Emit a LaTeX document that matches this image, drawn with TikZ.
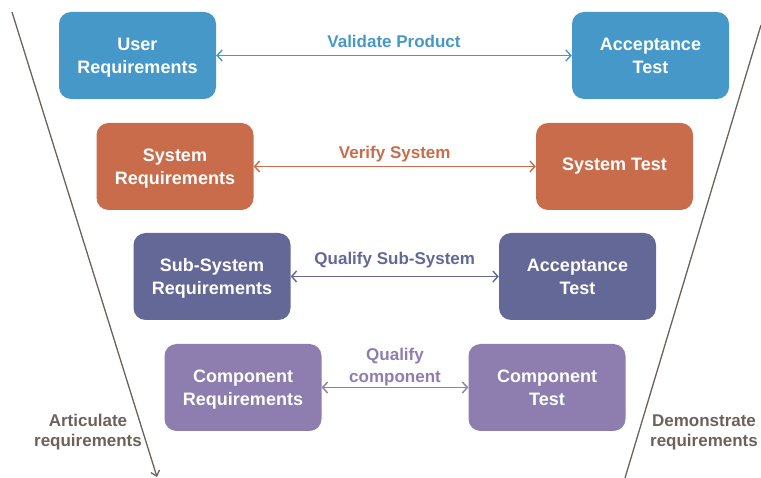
\documentclass[tikz,border=0pt]{standalone}
\usepackage{fontspec}
\setmainfont{Liberation Sans}
\usepackage{tikz}
\usetikzlibrary{arrows.meta, positioning}

\definecolor{vblue}{RGB}{70,152,201}
\definecolor{vorange}{RGB}{200,108,75}
\definecolor{vslate}{RGB}{100,104,150}
\definecolor{vpurple}{RGB}{142,125,175}
\definecolor{vbrown}{RGB}{108,98,90}

% keep the descender of the last line out of the centring
\newcommand{\nodepth}[1]{\raisebox{0pt}[\height][0pt]{#1}}

\begin{document}
\begin{tikzpicture}[
    x=1pt, y=-1pt,
    box/.style={rounded corners=12pt, minimum width=157pt, minimum height=87pt,
        align=center, text=white, font=\fontsize{18}{23}\selectfont\bfseries},
    link/.style={{Straight Barb[length=5pt,width=11pt]}-{Straight Barb[length=5pt,width=11pt]}, line width=1.4pt},
    linklabel/.style={font=\fontsize{17}{22}\selectfont\bfseries, align=center},
    side/.style={vbrown, line width=1.3pt},
    sidelabel/.style={vbrown, font=\fontsize{17}{20}\selectfont\bfseries, align=center}
]
\useasboundingbox (0,0) rectangle (761,478);

% left side of the V
\node[box, fill=vblue] (ureq) at (137.5,55.5) {User\\\nodepth{Requirements}};
\node[box, fill=vorange] (sreq) at (175,166.5) {System\\\nodepth{Requirements}};
\node[box, fill=vslate] (ssreq) at (212,276.5) {Sub-System\\\nodepth{Requirements}};
\node[box, fill=vpurple] (creq) at (243,387.5) {Component\\\nodepth{Requirements}};

% right side of the V
\node[box, fill=vblue] (atest) at (650.5,55.5) {Acceptance\\Test};
\node[box, fill=vorange] (stest) at (614.5,166.5) {System Test};
\node[box, fill=vslate] (sstest) at (577.5,276.5) {Acceptance\\Test};
\node[box, fill=vpurple] (ctest) at (547,387.5) {Component\\Test};

% links between levels
\draw[link, vblue] (ureq) -- node[linklabel, above, yshift=4pt, text=vblue] {Validate Product} (atest);
\draw[link, vorange] (sreq) -- node[linklabel, above, text=vorange] {Verify System} (stest);
\draw[link, vslate] (ssreq) -- node[linklabel, above, yshift=4pt, text=vslate] {Qualify Sub-System} (sstest);
\draw[link, vpurple] (creq) -- node[linklabel, above, yshift=-3pt, text=vpurple] {Qualify\\component} (ctest);

% the two slopes
\coordinate (ltop) at (12,12);
\coordinate (lbot) at (157,477);
\coordinate (rbot) at (625,478);
\coordinate (rtop) at (761,25);
\draw[side, -{Straight Barb[length=5pt,width=9pt]}] (ltop) -- (lbot);
\draw[side] (rbot) -- (rtop);

\node[sidelabel] (artic) at (88,432) {Articulate\\requirements};
\node[sidelabel] (demo) at (704,432) {Demonstrate\\requirements};

\end{tikzpicture}
\end{document}
